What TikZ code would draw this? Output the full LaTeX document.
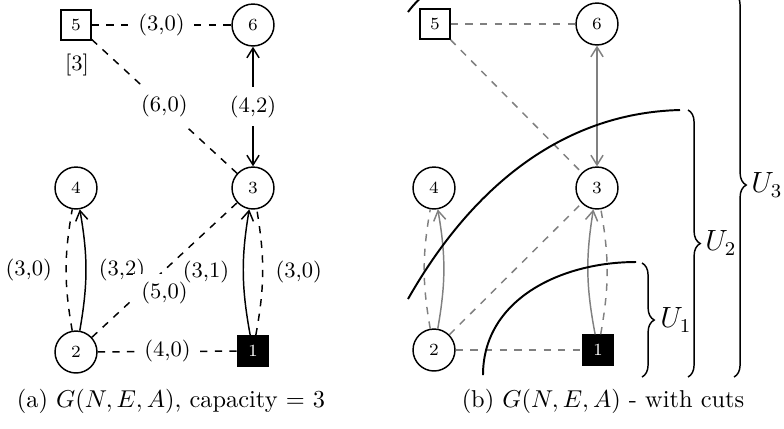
\documentclass[tikz,border=0pt]{standalone}
\usetikzlibrary{decorations.pathreplacing,arrows.meta}
\begin{document}
\begin{tikzpicture}[x=0.41pt,y=-0.41pt,
  >={Straight Barb[length=4pt,width=5pt]},
  circ/.style={circle,draw,semithick,minimum size=17.2pt,inner sep=0pt,font=\scriptsize},
  sqr/.style={rectangle,draw,semithick,minimum size=12.3pt,inner sep=0pt,font=\scriptsize},
  sqblk/.style={sqr,fill=black,text=white},
  dedge/.style={dashed,semithick},
  aedge/.style={->,semithick},
  dbl/.style={<->,semithick},
  lab/.style={font=\small,inner sep=1pt},
  onlab/.style={font=\small,fill=white},
  cut/.style={thick},
  brc/.style={decorate,decoration={brace,amplitude=5pt},semithick}
]
\useasboundingbox (0,0) rectangle (784,428);

% ---------- (a) ----------
\node[sqr] (a5) at (76,25) {5};
\node[font=\small] (a5c) at (77,65) {[3]};
\node[circ] (a6) at (253,25) {6};
\node[circ] (a4) at (76,188) {4};
\node[circ] (a3) at (253,188) {3};
\node[circ] (a2) at (76,352) {2};
\node[sqblk] (a1) at (253,351) {1};

\draw[dedge] (a5) -- node[onlab]{(3,0)} (a6);
\draw[dedge] (a5) -- node[onlab]{(6,0)} (a3);
\draw[dbl] (a6) -- node[onlab]{(4,2)} (a3);
\draw[dedge] (a2) to[bend left=10] node[lab,left=4.5pt]{(3,0)} (a4);
\draw[aedge] (a2) to[bend right=10] node[lab,right=4pt]{(3,2)} (a4);
\draw[dedge] (a2) -- node[onlab,yshift=-9.4pt]{(5,0)} (a3);
\draw[aedge] (a1) to[bend left=10] node[lab,left=4.5pt]{(3,1)} (a3);
\draw[dedge] (a1) to[bend right=10] node[lab,right=4pt]{(3,0)} (a3);
\draw[dedge] (a2) -- node[onlab]{(4,0)} (a1);

\node (capa) at (171,401) {(a) $G(N,E,A)$, capacity = 3};

% ---------- (b) ----------
\node[sqr] (b5) at (435,24) {5};
\node[circ] (b6) at (597,24) {6};
\node[circ] (b4) at (434,188) {4};
\node[circ] (b3) at (597,188) {3};
\node[circ] (b2) at (434,350) {2};
\node[sqblk] (b1) at (598,350) {1};

\begin{scope}[gray]
\draw[dedge] (b5) -- (b6);
\draw[dedge] (b5) -- (b3);
\draw[dbl] (b6) -- (b3);
\draw[dedge] (b2) to[bend left=10] (b4);
\draw[aedge] (b2) to[bend right=10] (b4);
\draw[dedge] (b2) -- (b3);
\draw[aedge] (b1) to[bend left=10] (b3);
\draw[dedge] (b1) to[bend right=10] (b3);
\draw[dedge] (b2) -- (b1);
\end{scope}

% cuts
\draw[cut] (483,375) .. controls (483,300) and (560,262) .. (636,262);
\draw[cut] (408,299) .. controls (470,190) and (560,113) .. (680,110);
\draw[cut] (408,12) .. controls (414,4) and (420,-2) .. (430,-10);

% braces
\coordinate (u1t) at (642,263);
\coordinate (u1b) at (642,377);
\coordinate (u2t) at (688,110);
\coordinate (u2b) at (688,377);
\coordinate (u3t) at (734,-7);
\coordinate (u3b) at (734,377);
\draw[brc] (u1t) -- (u1b);
\draw[brc] (u2t) -- (u2b);
\draw[brc] (u3t) -- (u3b);
\node[font=\large] (u1) at (676,320) {$U_1$};
\node[font=\large] (u2) at (721,243) {$U_2$};
\node[font=\large] (u3) at (767,185) {$U_3$};

\node (capb) at (603,401) {(b) $G(N,E,A)$ - with cuts};
\end{tikzpicture}
\end{document}
